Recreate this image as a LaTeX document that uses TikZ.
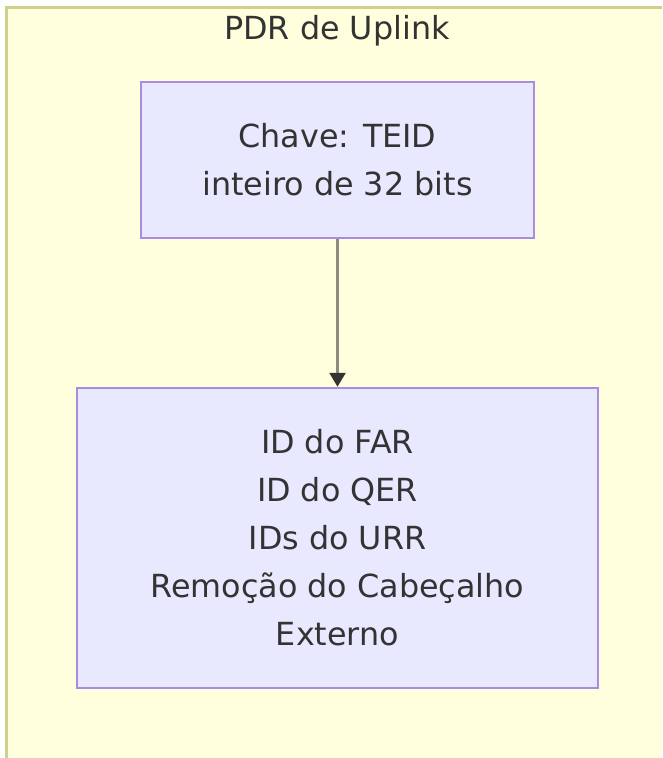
\documentclass[tikz,border=0pt]{standalone}
\usepackage{fontspec}
\setmainfont{DejaVu Sans}
\usetikzlibrary{arrows.meta}
\definecolor{clfill}{HTML}{FFFFDE}
\definecolor{clstroke}{HTML}{D0D08E}
\definecolor{ndfill}{HTML}{E8E8FF}
\definecolor{ndstroke}{HTML}{A88CE2}
\definecolor{txt}{HTML}{333333}
\definecolor{edge}{HTML}{8C8C80}
\tikzset{
  nodebox/.style={draw=ndstroke, fill=ndfill, line width=2.5pt, inner sep=0pt, align=center, text=txt,
    font=\fontsize{31.8}{48}\selectfont},
  flow/.style={draw=edge, line width=2.5pt, -{Triangle[length=14pt,width=16pt,color=txt]}},
}
\begin{document}
\begin{tikzpicture}[x=1pt,y=-1pt]
\useasboundingbox (0,0) rectangle (662,758);
\fill[white] (0,0) rectangle (662,758);
\fill[clfill] (6,7) rectangle (662,758);
\draw[draw=clstroke, line width=3pt] (6,758) -- (6,7) -- (662,7);
\node[anchor=base, text=txt, font=\fontsize{31.8}{48}\selectfont] (title) at (337,39) {PDR de Uplink};
\node[nodebox, minimum width=393pt, minimum height=156pt] (key) at (337.5,160) {Chave: TEID\\inteiro de 32 bits};
\node[nodebox, minimum width=521pt, minimum height=300pt] (val) at (337.5,538) {ID do FAR\\ID do QER\\IDs do URR\\Remoção do Cabeçalho\\Externo};
\draw[flow] (key.south) -- (val.north);
\end{tikzpicture}
\end{document}
